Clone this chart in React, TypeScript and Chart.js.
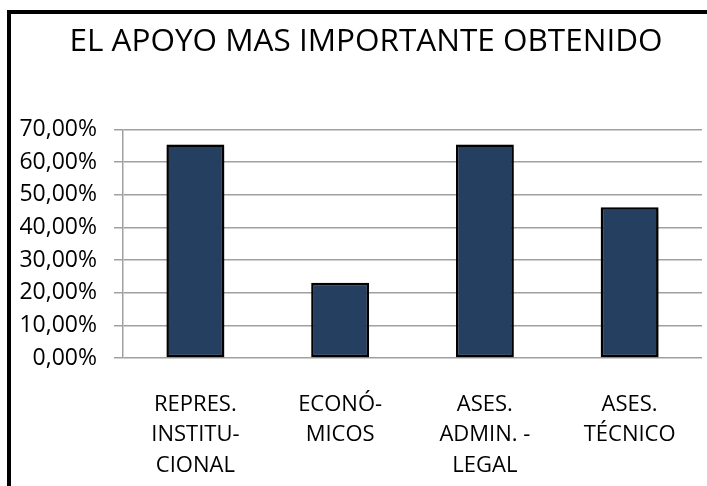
import React, { useEffect, useRef } from "react";
import { Chart, registerables } from "chart.js";

Chart.register(...registerables);

const categories: string[][] = [
  ["REPRES.", "INSTITU-", "CIONAL"],
  ["ECONÓ-", "MICOS"],
  ["ASES.", "ADMIN. -", "LEGAL"],
  ["ASES.", "TÉCNICO"],
];
const values: number[] = [65.38, 23.08, 65.38, 46.15];
const yMax = 70;
const yStep = 10;
const titleText = "EL APOYO MAS IMPORTANTE OBTENIDO";

const W = 696;
const H = 472;

const shadowPlugin = {
  id: "barShadow",
  beforeDatasetsDraw(chart: any) {
    const ctx = chart.ctx;
    ctx.save();
    ctx.shadowColor = "rgba(0,0,0,0.35)";
    ctx.shadowBlur = 4;
    ctx.shadowOffsetX = 2;
    ctx.shadowOffsetY = 2;
  },
  afterDatasetsDraw(chart: any) {
    chart.ctx.restore();
  },
};

const titlePlugin = {
  id: "offsetTitle",
  afterDraw(chart: any) {
    const ctx = chart.ctx;
    ctx.save();
    ctx.font = "normal 31.5px 'Open Sans'";
    ctx.fillStyle = "#000000";
    ctx.textAlign = "center";
    ctx.textBaseline = "middle";
    ctx.fillText(titleText, chart.width / 2 + 7, 27.7);
    ctx.restore();
  },
};

export default function App() {
  const ref = useRef<HTMLCanvasElement | null>(null);
  useEffect(() => {
    if (!ref.current) return;
    const chart = new Chart(ref.current, {
      type: "bar",
      data: {
        labels: categories,
        datasets: [
          {
            data: values,
            backgroundColor: "#253F60",
            borderColor: "#000000",
            borderWidth: 2.5,
            borderSkipped: false,
            barPercentage: 0.4,
            categoryPercentage: 1,
          },
        ],
      },
      plugins: [shadowPlugin, titlePlugin],
      options: {
        responsive: false,
        animation: false,
        layout: { padding: { left: 0, right: 5, top: 115.5, bottom: 0 } },
        plugins: {
          legend: { display: false },
          tooltip: { enabled: false },
          title: { display: false },
        },
        scales: {
          x: {
            grid: { display: false, drawTicks: true, tickLength: 31 },
            border: { display: false },
            ticks: {
              color: "#000000",
              font: { family: "'Open Sans'", size: 22, lineHeight: 1.4 },
              padding: 0,
              maxRotation: 0,
              autoSkip: false,
            },
            afterFit(scale: any) {
              scale.height = 128;
            },
          },
          y: {
            min: 0,
            max: yMax,
            ticks: {
              stepSize: yStep,
              color: "#000000",
              font: { family: "'Open Sans'", size: 23 },
              padding: 17,
              callback: (v: any) => Number(v).toFixed(2).replace(".", ",") + "%",
            },
            grid: { color: "#a0a0a0", lineWidth: 1.5, tickLength: 9, drawTicks: true },
            border: { display: true, color: "#a0a0a0", width: 1.5 },
            afterFit(scale: any) {
              scale.width = 112;
            },
          },
        },
      },
    });
    return () => chart.destroy();
  }, []);
  return (
    <div
      style={{
        position: "absolute",
        left: 7,
        top: 10,
        borderLeft: "4px solid #000",
        borderTop: "4px solid #000",
        width: W,
        height: H,
        background: "#fff",
      }}
    >
      <canvas ref={ref} width={W} height={H} style={{ display: "block", width: W, height: H }} />
    </div>
  );
}
